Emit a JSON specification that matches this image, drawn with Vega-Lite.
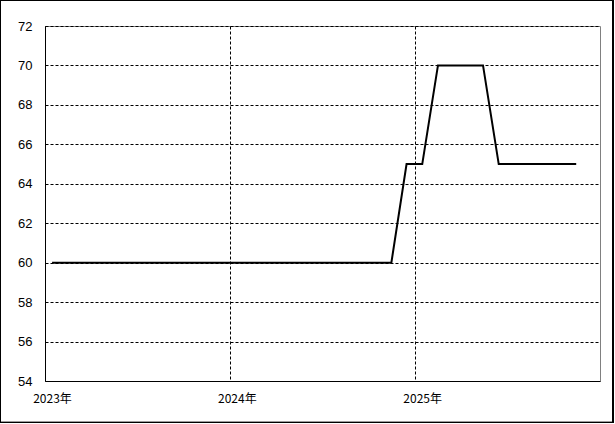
{
  "$schema": "https://vega.github.io/schema/vega-lite/v6.json",
  "width": 555,
  "height": 355,
  "autosize": "none",
  "padding": {"left": 45, "top": 26, "right": 15, "bottom": 43},
  "background": "white",
  "config": {
    "view": {"stroke": "#808080", "strokeWidth": 1},
    "font": "Liberation Sans",
    "axis": {
      "labelFont": "Liberation Sans",
      "labelFontSize": 13,
      "labelColor": "black",
      "ticks": false,
      "domainColor": "black",
      "domainWidth": 1,
      "gridColor": "black",
      "gridDash": [3, 2],
      "gridWidth": 1,
      "gridOpacity": 1
    }
  },
  "data": {
    "values": [
      {"date": "2023-01-15", "value": 60},
      {"date": "2023-02-15", "value": 60},
      {"date": "2023-03-15", "value": 60},
      {"date": "2023-04-15", "value": 60},
      {"date": "2023-05-15", "value": 60},
      {"date": "2023-06-15", "value": 60},
      {"date": "2023-07-15", "value": 60},
      {"date": "2023-08-15", "value": 60},
      {"date": "2023-09-15", "value": 60},
      {"date": "2023-10-15", "value": 60},
      {"date": "2023-11-15", "value": 60},
      {"date": "2023-12-15", "value": 60},
      {"date": "2024-01-15", "value": 60},
      {"date": "2024-02-15", "value": 60},
      {"date": "2024-03-15", "value": 60},
      {"date": "2024-04-15", "value": 60},
      {"date": "2024-05-15", "value": 60},
      {"date": "2024-06-15", "value": 60},
      {"date": "2024-07-15", "value": 60},
      {"date": "2024-08-15", "value": 60},
      {"date": "2024-09-15", "value": 60},
      {"date": "2024-10-15", "value": 60},
      {"date": "2024-11-15", "value": 60},
      {"date": "2024-12-15", "value": 65},
      {"date": "2025-01-15", "value": 65},
      {"date": "2025-02-15", "value": 70},
      {"date": "2025-03-15", "value": 70},
      {"date": "2025-04-15", "value": 70},
      {"date": "2025-05-15", "value": 70},
      {"date": "2025-06-15", "value": 65},
      {"date": "2025-07-15", "value": 65},
      {"date": "2025-08-15", "value": 65},
      {"date": "2025-09-15", "value": 65},
      {"date": "2025-10-15", "value": 65},
      {"date": "2025-11-15", "value": 65}
    ]
  },
  "encoding": {
    "x": {
      "field": "date",
      "type": "temporal",
      "scale": {"type": "utc", "domain": ["2023-01-01", "2026-01-01"]},
      "axis": {
        "title": null,
        "values": [
          {"year": 2023, "month": 1, "date": 1, "utc": true},
          {"year": 2024, "month": 1, "date": 1, "utc": true},
          {"year": 2025, "month": 1, "date": 1, "utc": true}
        ],
        "labelExpr": "utcFormat(datum.value, '%Y') + '年'",
        "labelFont": "Noto Sans CJK JP",
        "labelFontSize": 12,
        "labelAlign": "center",
        "labelOffset": 7,
        "labelPadding": 12,
        "labelFlush": false
      }
    },
    "y": {
      "field": "value",
      "type": "quantitative",
      "scale": {"domain": [54, 72], "nice": false, "zero": false},
      "axis": {
        "title": null,
        "values": [54, 56, 58, 60, 62, 64, 66, 68, 70, 72],
        "labelPadding": 13,
        "labelFlush": false
      }
    }
  },
  "layer": [
    {
      "mark": {"type": "rect", "filled": false, "stroke": "black", "strokeWidth": 1, "clip": false},
      "encoding": {
        "x": {"datum": {"year": 2022, "month": 10, "date": 5, "utc": true}, "type": "temporal"},
        "x2": {"datum": {"year": 2026, "month": 1, "date": 27, "utc": true}},
        "y": {"datum": 73.293, "type": "quantitative"},
        "y2": {"datum": 51.896}
      }
    },
    {
      "mark": {"type": "line", "color": "black", "strokeWidth": 2}
    }
  ]
}
